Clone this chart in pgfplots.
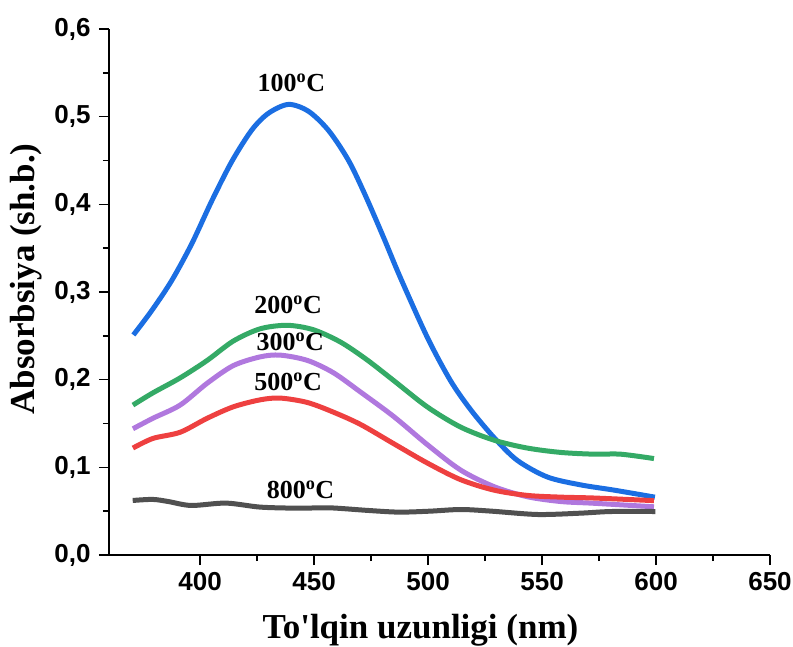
\documentclass[border=0pt]{standalone}
\usepackage{pgfplots}
\pgfplotsset{compat=1.18}
\usepackage{fontspec}
\setmainfont{Liberation Serif}
\setsansfont{Liberation Sans}
\definecolor{cblue}{RGB}{27,110,226}
\definecolor{cgreen}{RGB}{52,170,102}
\definecolor{cpurple}{RGB}{176,120,222}
\definecolor{cred}{RGB}{238,64,64}
\definecolor{cgray}{RGB}{80,80,80}
\begin{document}
\begin{tikzpicture}
\begin{axis}[
  at={(0,0)}, anchor=south west,
  scale only axis, width=661pt, height=526pt,
  xmin=360, xmax=650, ymin=0, ymax=0.6,
  axis x line*=bottom, axis y line*=left,
  axis line style={line width=1.6pt},
  xtick={400,450,500,550,600,650},
  ytick={0,0.1,0.2,0.3,0.4,0.5,0.6},
  minor x tick num=1, minor y tick num=1,
  tick align=outside,
  major tick length=10pt, minor tick length=6pt,
  every tick/.style={line width=1.6pt, black},
  /pgf/number format/assume math mode=true,
  yticklabel style={xshift=-5pt, /pgf/number format/.cd, fixed, fixed zerofill, precision=1, use comma},
  xticklabel style={yshift=-4pt, /pgf/number format/.cd, 1000 sep={}},
  tick label style={font=\sffamily\bfseries\fontsize{26}{26}\selectfont},
  xlabel={To\textquotesingle lqin uzunligi (nm)},
  ylabel={Absorbsiya (sh.b.)},
  label style={font=\bfseries\fontsize{35}{40}\selectfont},
  xlabel style={xshift=-19pt, yshift=-16pt},
  ylabel style={xshift=13pt, yshift=5pt},
  clip=false,
  every axis plot/.append style={line width=5pt, smooth, no markers},
]
\addplot[cblue] coordinates {
(370.7,0.251) (378.8,0.279) (387.5,0.313) (396.3,0.355) (405.1,0.404) (413.9,0.449)
(422.7,0.485) (430,0.504) (438.8,0.514) (447.6,0.506) (456.4,0.484) (465.1,0.450)
(472.5,0.410) (480.5,0.362) (487.9,0.316) (499.7,0.248) (509.8,0.199) (518.6,0.166)
(528.9,0.134) (539.1,0.108) (552.3,0.089) (566.9,0.080) (581.6,0.074) (599.5,0.066)};
\addplot[cgreen] coordinates {
(370.5,0.171) (379.3,0.185) (391.2,0.202) (403.1,0.222) (414.5,0.244) (426.3,0.258)
(438.2,0.262) (449.6,0.257) (461.5,0.243) (473,0.223) (484.9,0.199) (499.6,0.169)
(514.2,0.146) (528.9,0.131) (543.5,0.122) (558.2,0.117) (572.8,0.115) (584.5,0.115) (599.1,0.110)};
\addplot[cpurple] coordinates {
(370.5,0.144) (379.3,0.156) (391.2,0.171) (403.1,0.196) (414.5,0.216) (426.3,0.226)
(435.1,0.228) (447,0.222) (458.4,0.208) (470.3,0.186) (484.9,0.158) (499.6,0.126)
(514.2,0.097) (528.9,0.078) (543.5,0.0665) (558.2,0.061) (572.8,0.059) (599.1,0.055)};
\addplot[cred] coordinates {
(370.5,0.122) (379.3,0.133) (391.2,0.140) (403.1,0.156) (414.5,0.169) (426.3,0.177)
(435.1,0.179) (447,0.174) (458.4,0.163) (470.3,0.149) (484.9,0.127) (499.6,0.105)
(514.2,0.086) (528.9,0.074) (543.5,0.068) (558.2,0.066) (572.8,0.065) (599.1,0.062)};
\addplot[cgray] coordinates {
(370.4,0.0622) (379.2,0.0634) (386,0.061) (396.1,0.0565) (411.3,0.0592) (426.5,0.0546)
(443.4,0.0534) (456.9,0.0538) (473.8,0.0508) (487.3,0.0489) (500.8,0.050) (514.4,0.0519)
(527.9,0.050) (548.1,0.0462) (566.7,0.0477) (580.2,0.0496) (599.7,0.0496)};
\begin{scope}[every node/.style={font=\bfseries\fontsize{26}{26}\selectfont}]
\node at (axis cs:440,0.539) {100\textsuperscript{o}C};
\node at (axis cs:438.6,0.285) {200\textsuperscript{o}C};
\node at (axis cs:439.5,0.243) {300\textsuperscript{o}C};
\node at (axis cs:438.6,0.198) {500\textsuperscript{o}C};
\node at (axis cs:444,0.074) {800\textsuperscript{o}C};
\end{scope}
\end{axis}
\pgfresetboundingbox
\useasboundingbox (-109pt,-91pt) rectangle (684pt,555pt);
\end{tikzpicture}
\end{document}
